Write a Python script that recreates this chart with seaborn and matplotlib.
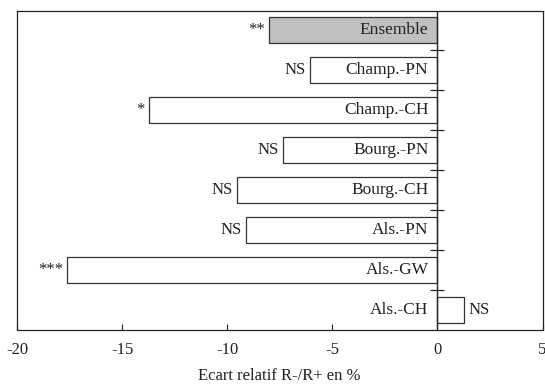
import matplotlib
matplotlib.use("Agg")
import matplotlib.pyplot as plt
import seaborn as sns
import pandas as pd

categories = ["Ensemble", "Champ.-PN", "Champ.-CH", "Bourg.-PN",
              "Bourg.-CH", "Als.-PN", "Als.-GW", "Als.-CH"]
values = [-8.02, -6.05, -13.73, -7.35, -9.52, -9.12, -17.6, 1.25]
significance = ["**", "NS", "*", "NS", "NS", "NS", "***", "NS"]
fill_colors = ["#c0c0c0", "white", "white", "white", "white", "white", "white", "white"]
x_ticks = [-20, -15, -10, -5, 0, 5]
x_tick_labels = ["-20", "-15", "-10", "-5", "0", "5"]
x_label = "Ecart relatif R-/R+ en %"

sns.set_theme(style="ticks")
plt.rcParams["font.family"] = ["Liberation Serif", "DejaVu Serif"]
plt.rcParams["axes.unicode_minus"] = False

df = pd.DataFrame({"cat": categories, "val": values})

fig = plt.figure(figsize=(5.45, 3.9), dpi=100)
ax = fig.add_axes([17 / 545, 1 - 329.5 / 390, (542.5 - 17) / 545, (329.5 - 10.7) / 390])

sns.barplot(data=df, x="val", y="cat", hue="cat", palette=fill_colors,
            orient="h", width=0.65, edgecolor="#333333", linewidth=0.9,
            legend=False, ax=ax)

xmin, xmax = -20, 5
ax.set_xlim(xmin, xmax)
ax.set_ylim(len(categories) - 0.5, -0.48)
ax.set_xticks(x_ticks)
ax.set_xticklabels(x_tick_labels)
ax.set_yticks([])
ax.set_ylabel("")
ax.set_xlabel(x_label, fontsize=12, labelpad=7, color="#222222")
ax.tick_params(axis="x", direction="in", length=4, width=0.8, pad=9,
               labelsize=12, colors="#222222", labelcolor="#222222")
for s in ax.spines.values():
    s.set_visible(True)
    s.set_linewidth(0.9)
    s.set_color("#222222")

# zero line
ax.axvline(0, color="#222222", linewidth=1.0, zorder=5)

# category separators on the zero axis
sec = ax.secondary_yaxis((0 - xmin) / (xmax - xmin))
sec.set_yticks([i + 0.5 for i in range(len(categories) - 1)])
sec.set_yticklabels([])
sec.tick_params(direction="inout", length=10, width=0.9, color="#222222")
for sp in sec.spines.values():
    sp.set_visible(False)

for i, (c, v, s) in enumerate(zip(categories, values, significance)):
    ax.annotate(c, xy=(0, i), xytext=(-6.5, 0), textcoords="offset points",
                ha="right", va="center", fontsize=12.5, color="#222222")
    if v < 0:
        ax.annotate(s, xy=(v, i), xytext=(-3, 0), textcoords="offset points",
                    ha="right", va="center", fontsize=12, color="#222222")
    else:
        ax.annotate(s, xy=(v, i), xytext=(3.5, 0), textcoords="offset points",
                    ha="left", va="center", fontsize=12, color="#222222")

fig.savefig("out.png", dpi=100)
